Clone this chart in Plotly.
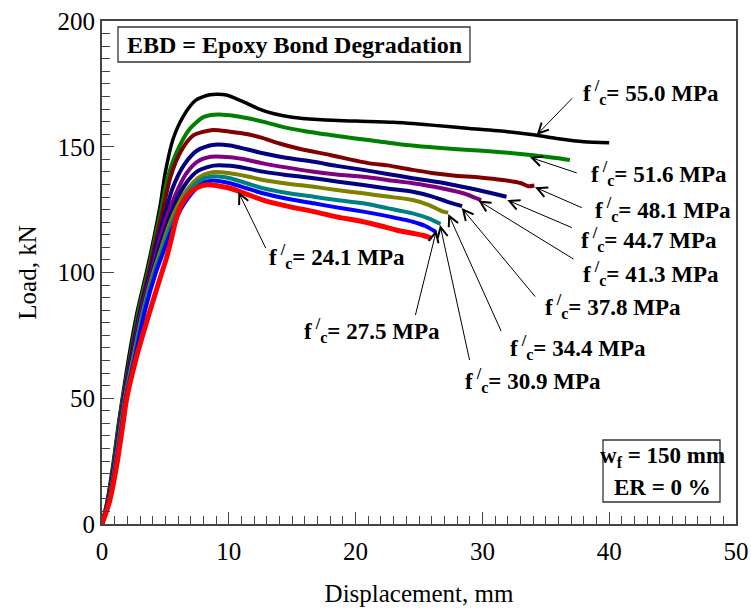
import plotly.graph_objects as go

labels = ["55.0", "51.6", "48.1", "44.7", "41.3", "37.8", "34.4", "30.9", "27.5", "24.1"]
colors = ["#000000", "#008000", "#800000", "#000080", "#800080", "#000080",
          "#808000", "#008080", "#0000FF", "#FF0000"]

x_550 = [0, 0.4, 0.9, 1.3, 1.6, 2.1, 2.8, 3.5, 4.1, 4.6, 5.0, 5.6, 6.4, 7.4, 8.5, 9.8, 11.0, 12.3, 13.5, 15, 17, 20, 23, 26, 29, 32, 34, 36, 38, 40]
y_550 = [0, 9, 25, 40, 50, 66, 85, 100, 114, 127, 140, 153, 162, 168.5, 170.7, 170.6, 168.2, 165.2, 163.2, 161.7, 160.8, 160.2, 159.7, 158.6, 157.3, 156, 154.8, 153.2, 152, 151.6]

x_516 = [0, 0.45, 0.95, 1.35, 1.65, 2.2, 2.9, 3.6, 4.2, 4.75, 5.2, 5.9, 6.9, 8.0, 9.2, 10.5, 11.8, 13.0, 14.3, 16, 18, 20, 22, 24, 26, 28, 30, 32, 34, 36, 36.9]
y_516 = [0, 9, 25, 40, 50, 66, 85, 100, 114, 127, 138, 148, 157, 161.8, 162.8, 162.2, 161, 159.6, 157.8, 156.2, 154.7, 153.3, 152, 150.7, 149.8, 149, 148.4, 147.6, 146.6, 145.4, 144.7]

x_481 = [0, 0.45, 1.0, 1.4, 1.7, 2.25, 3.0, 3.7, 4.3, 4.85, 5.4, 6.2, 7.2, 8.6, 10.1, 11.5, 12.7, 14, 15.4, 18, 21.1, 22.5, 24.5, 26, 27.7, 29.8, 31.6, 33.0, 33.6, 34.1]
y_481 = [0, 9, 25, 40, 50, 66, 85, 100, 114, 126, 138, 148, 154.5, 156.6, 156, 155, 153.4, 151.3, 149.4, 146.7, 143.4, 142.6, 140.8, 139.6, 138.6, 137.8, 136.8, 135.6, 134.3, 134.6]

x_447 = [0, 0.5, 1.02, 1.42, 1.72, 2.3, 3.05, 3.8, 4.4, 5.0, 5.6, 6.5, 7.5, 8.7, 10.1, 11.4, 12.7, 14.5, 16.7, 18.5, 20.6, 22.5, 24.5, 26.5, 29, 30.5, 31.9]
y_447 = [0, 9, 25, 40, 50, 66, 85, 100, 113, 124, 134, 143, 148.5, 150.7, 150.5, 149, 147.4, 145.6, 144, 142.4, 140.8, 139.2, 137.5, 136, 133.5, 131.8, 130.1]

x_413 = [0, 0.5, 1.05, 1.45, 1.75, 2.35, 3.1, 3.9, 4.5, 5.1, 5.8, 6.6, 7.5, 8.6, 10.1, 11.4, 12.7, 14.5, 16.7, 18.5, 20.6, 22.5, 24.5, 26.5, 28.5, 29.3, 29.9]
y_413 = [0, 9, 25, 40, 50, 66, 85, 100, 112, 122, 131, 139, 144, 146, 145.8, 144.8, 143.4, 141.8, 140.1, 139, 138.1, 136.8, 135.5, 133.8, 131.5, 130, 128.8]

x_378 = [0, 0.5, 1.08, 1.5, 1.8, 2.4, 3.2, 4.0, 4.6, 5.2, 5.9, 6.7, 7.6, 8.8, 10.1, 11.4, 12.7, 14.5, 16.7, 18.5, 20.6, 22.5, 24.5, 26, 27.2, 28.4]
y_378 = [0, 9, 25, 40, 50, 66, 85, 100, 111, 120, 129, 136, 140.5, 142.5, 142.4, 141.4, 140.1, 138.8, 137.5, 136.2, 134.8, 133.4, 132.1, 130.3, 128.2, 126.4]

x_344 = [0, 0.55, 1.1, 1.52, 1.82, 2.45, 3.25, 4.05, 4.7, 5.3, 6.0, 6.8, 7.7, 8.7, 10.1, 11.4, 12.7, 14.5, 16.7, 18.5, 20.6, 22.5, 24.5, 25.8, 26.9, 27.3]
y_344 = [0, 9, 25, 40, 50, 66, 85, 100, 110, 119, 127, 133.5, 138, 139.9, 139.5, 138.3, 136.8, 135.4, 134.1, 132.8, 131.5, 130.2, 128.8, 126.8, 124.2, 123.8]

x_309 = [0, 0.55, 1.12, 1.55, 1.85, 2.5, 3.3, 4.15, 4.8, 5.4, 6.1, 6.9, 7.7, 8.6, 10.1, 11.4, 12.7, 14.5, 16.7, 18.5, 20.6, 22.5, 24.5, 25.7, 26.7]
y_309 = [0, 9, 25, 40, 50, 66, 85, 100, 109.5, 118, 126, 132.5, 136.5, 138.2, 137.5, 135.5, 133.5, 131.7, 130.1, 128.8, 127.5, 125.6, 123.5, 121.6, 119.3]

x_275 = [0, 0.58, 1.15, 1.6, 1.88, 2.6, 3.4, 4.25, 4.9, 5.5, 6.2, 7.0, 7.8, 8.6, 10.1, 11.4, 12.7, 14.5, 16.7, 18.5, 20.6, 22.5, 24.5, 25.5, 26.3]
y_275 = [0, 9, 25, 40, 50, 66, 85, 100, 109, 117, 125, 131, 135, 136.5, 135.5, 133.5, 131.5, 129.4, 127.5, 125.9, 124.2, 122.4, 120.2, 118.5, 116.2]

x_241 = [0, 0.6, 1.15, 1.66, 1.95, 2.7, 3.5, 4.1, 4.6, 5.1, 5.5, 5.95, 6.5, 7.1, 7.7, 8.3, 9.1, 10.1, 11.4, 12.7, 14.5, 16.7, 18.5, 20.6, 22, 23.2, 24.5, 25.3, 26]
y_241 = [0, 9, 23, 40, 50, 66, 80, 90, 98, 106, 114, 123, 129, 132.4, 134.2, 134.9, 134.5, 133.5, 131.2, 128.8, 126.5, 124.2, 122.1, 120.2, 118.5, 116.9, 115.6, 114.8, 113.6]

xs = [x_550, x_516, x_481, x_447, x_413, x_378, x_344, x_309, x_275, x_241]
ys = [y_550, y_516, y_481, y_447, y_413, y_378, y_344, y_309, y_275, y_241]
widths = [3.5, 4, 4, 4, 4, 4, 4, 4, 4, 5]

# label text anchor (left, middle) and arrow tail/head, in data units
label_pos = [(37.8, 171.5), (38.4, 139.5), (38.7, 125.2), (37.6, 113.0), (37.8, 99.5),
             (34.8, 86.5), (32.0, 70.0), (28.5, 57.0), (15.8, 77.0), (13.0, 106.5)]
arrow_tail = [(37.2, 169.9), (37.56, 139.4), (37.96, 125.5), (37.17, 117.6), (37.3, 105.0),
              (34.28, 89.7), (31.55, 75.9), (29.02, 64.4), (24.68, 82.3), (12.99, 108.9)]
arrow_head = [(34.28, 154.7), (33.75, 145.8), (34.15, 133.9), (31.96, 128.8), (29.68, 128.6),
              (28.37, 125.6), (27.31, 123.3), (26.66, 118.9), (26.38, 116.9), (10.75, 132.1)]

FONT = "Liberation Serif"

fig = go.Figure()
for x, y, c, w in zip(xs, ys, colors, widths):
    fig.add_trace(go.Scatter(x=x, y=y, mode="lines",
                             line=dict(color=c, width=w, shape="spline", smoothing=0.7),
                             showlegend=False, hoverinfo="skip"))

ann = []
for lab, (tx, ty), (ax, ay), (hx, hy) in zip(labels, label_pos, arrow_tail, arrow_head):
    ann.append(dict(x=tx, y=ty, xref="x", yref="y", xanchor="left", yanchor="middle",
                    text="<b>f<sup> /</sup><sub>c</sub>= " + lab + " MPa</b>", showarrow=False,
                    font=dict(family=FONT, size=23, color="black")))
    ann.append(dict(x=hx, y=hy, xref="x", yref="y", ax=ax, ay=ay, axref="x", ayref="y",
                    text=" ", font=dict(size=1), showarrow=True, arrowhead=5, arrowsize=2,
                    arrowwidth=1, arrowcolor="black", standoff=0, startstandoff=0))

ann.append(dict(x=(294 - 102) / 634, y=(524 - 45) / 503, xref="paper", yref="paper",
                xanchor="center", yanchor="middle",
                text="<b>EBD = Epoxy Bond Degradation</b>", showarrow=False,
                font=dict(family=FONT, size=24, color="black")))
ann.append(dict(x=(662 - 102) / 634, y=(524 - 457) / 503, xref="paper", yref="paper",
                xanchor="center", yanchor="middle",
                text="<b>w<sub>f</sub> = 150 mm</b>", showarrow=False,
                font=dict(family=FONT, size=23, color="black")))
ann.append(dict(x=(662 - 102) / 634, y=(524 - 487) / 503, xref="paper", yref="paper",
                xanchor="center", yanchor="middle",
                text="<b>ER = 0 %</b>", showarrow=False,
                font=dict(family=FONT, size=23, color="black")))

shapes = [
    dict(type="rect", xref="paper", yref="paper",
         x0=(118 - 102) / 634, x1=(470 - 102) / 634, y0=(524 - 62) / 503, y1=(524 - 27) / 503,
         line=dict(color="#333333", width=1.3)),
    dict(type="rect", xref="paper", yref="paper",
         x0=(603 - 102) / 634, x1=(720 - 102) / 634, y0=(524 - 502) / 503, y1=(524 - 440) / 503,
         line=dict(color="#333333", width=1.3)),
]

fig.update_layout(
    width=751, height=608,
    margin=dict(l=102, r=15, t=21, b=84, autoexpand=False),
    paper_bgcolor="white", plot_bgcolor="white",
    font=dict(family=FONT, size=25, color="black"),
    annotations=ann, shapes=shapes,
    xaxis=dict(range=[0, 50], dtick=10, ticks="inside", ticklen=12, tickwidth=1.2,
               tickcolor="#444444", showgrid=False, zeroline=False, automargin=False,
               showline=True, linecolor="#444444", linewidth=2, mirror=True,
               minor=dict(dtick=1, ticks="inside", ticklen=8, tickwidth=1, tickcolor="#444444", showgrid=False),
               tickfont=dict(family=FONT, size=25), ticklabelstandoff=4,
               title=dict(text="Displacement, mm", font=dict(family=FONT, size=25), standoff=20)),
    yaxis=dict(range=[0, 200], dtick=50, ticks="inside", ticklen=12, tickwidth=1.2,
               tickcolor="#444444", showgrid=False, zeroline=False, automargin=False,
               showline=True, linecolor="#444444", linewidth=2, mirror=True,
               minor=dict(dtick=5, ticks="inside", ticklen=8, tickwidth=1, tickcolor="#444444", showgrid=False),
               tickfont=dict(family=FONT, size=25),
               title=dict(text="Load, kN", font=dict(family=FONT, size=25), standoff=14)),
)

fig.write_html("out.html")
